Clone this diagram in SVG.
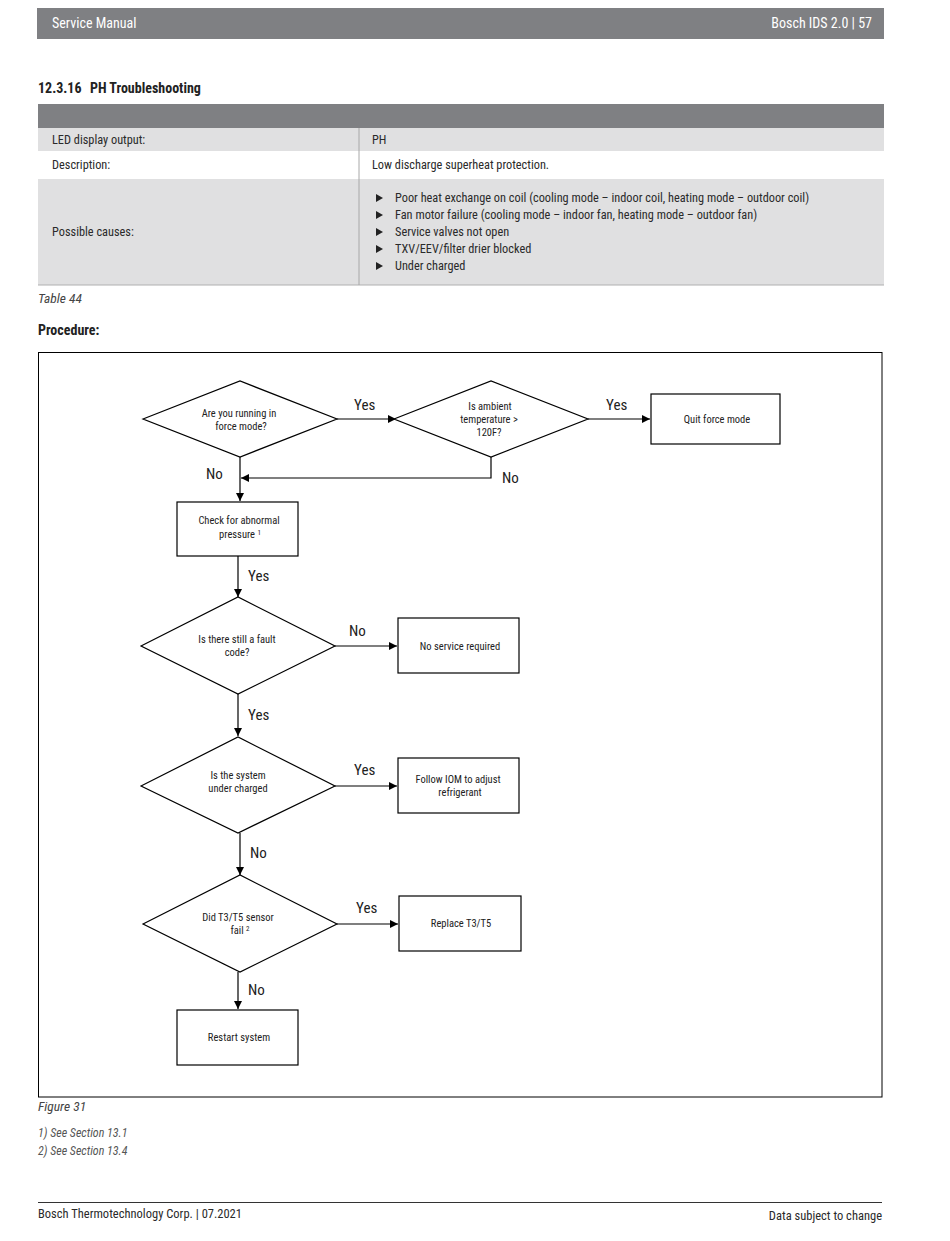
<svg xmlns="http://www.w3.org/2000/svg" width="950" height="1241" viewBox="0 0 950 1241">
<defs>
<marker id="arr" viewBox="0 0 10 10" refX="10" refY="5" markerWidth="8" markerHeight="8" markerUnits="userSpaceOnUse" orient="auto"><path d="M0,0 L10,5 L0,10 z" fill="#000"/></marker>
<style>
text{font-family:"Liberation Sans Narrow","Roboto Condensed","Liberation Sans",sans-serif;fill:#222}
.hdr{fill:#fff;font-size:14px}
.h2{font-size:14px;font-weight:bold}
.tb{font-size:12.3px;fill:#2a2a2a}
.ft{font-size:12.5px;fill:#2a2a2a}
.it{font-size:13.5px;font-style:italic;fill:#444}
.fn{font-size:12px;font-style:italic;fill:#555}
.nd{font-size:10.5px;text-anchor:middle}
.lb{font-size:15px}
.shape{fill:#fff;stroke:#000;stroke-width:1.2}
.con{stroke:#000;stroke-width:1.2;fill:none;marker-end:url(#arr)}
</style>
</defs>
<rect width="950" height="1241" fill="#fff"/>
<!-- header -->
<rect x="37" y="8" width="847" height="31" fill="#7f8083"/>
<text class="hdr" x="52" y="28">Service Manual</text>
<text class="hdr" x="872" y="28" text-anchor="end">Bosch IDS 2.0 | 57</text>
<text class="h2" x="38" y="93">12.3.16</text>
<text class="h2" x="90" y="93">PH Troubleshooting</text>
<!-- table -->
<rect x="38" y="104" width="846" height="24" fill="#7f8083"/>
<rect x="38" y="128" width="846" height="23" fill="#e0e0e1"/>
<rect x="38" y="179" width="846" height="106" fill="#e0e0e1"/>
<line x1="38" y1="285" x2="884" y2="285" stroke="#b0b0b0" stroke-width="1"/>
<line x1="359" y1="128" x2="359" y2="285" stroke="#a8a8a8" stroke-width="1"/>
<text class="tb" x="52" y="144">LED display output:</text>
<text class="tb" x="372" y="144">PH</text>
<text class="tb" x="52" y="169">Description:</text>
<text class="tb" x="372" y="169">Low discharge superheat protection.</text>
<text class="tb" x="52" y="236">Possible causes:</text>
<g fill="#222">
<path d="M376,194 L383,198 L376,202 z"/>
<path d="M376,211 L383,215 L376,219 z"/>
<path d="M376,228 L383,232 L376,236 z"/>
<path d="M376,245 L383,249 L376,253 z"/>
<path d="M376,262 L383,266 L376,270 z"/>
</g>
<text class="tb" x="395" y="202">Poor heat exchange on coil (cooling mode – indoor coil, heating mode – outdoor coil)</text>
<text class="tb" x="395" y="219">Fan motor failure (cooling mode – indoor fan, heating mode – outdoor fan)</text>
<text class="tb" x="395" y="236">Service valves not open</text>
<text class="tb" x="395" y="253">TXV/EEV/filter drier blocked</text>
<text class="tb" x="395" y="270">Under charged</text>
<text class="it" x="38" y="303">Table 44</text>
<text class="h2" x="38" y="335">Procedure:</text>
<!-- figure frame -->
<rect x="38.5" y="352.5" width="843.5" height="744.5" fill="none" stroke="#000" stroke-width="1"/>
<!-- connectors -->
<g id="connectors">
<line class="con" x1="337" y1="419" x2="396" y2="419"/>
<line class="con" x1="588" y1="419" x2="650" y2="419"/>
<line class="con" x1="240" y1="457" x2="240" y2="501"/>
<polyline class="con" points="491,457 491,478 241,478"/>
<line class="con" x1="238" y1="556" x2="238" y2="597"/>
<line class="con" x1="335" y1="646" x2="397" y2="646"/>
<line class="con" x1="238" y1="694" x2="238" y2="736"/>
<line class="con" x1="335" y1="786" x2="397" y2="786"/>
<line class="con" x1="240" y1="833" x2="240" y2="875"/>
<line class="con" x1="337" y1="924" x2="398" y2="924"/>
<line class="con" x1="238" y1="972" x2="238" y2="1009"/>
<text class="lb" x="354" y="410">Yes</text>
<text class="lb" x="606" y="410">Yes</text>
<text class="lb" x="206" y="479">No</text>
<text class="lb" x="502" y="483">No</text>
<text class="lb" x="248" y="581">Yes</text>
<text class="lb" x="349" y="636">No</text>
<text class="lb" x="248" y="720">Yes</text>
<text class="lb" x="354" y="775">Yes</text>
<text class="lb" x="250" y="858">No</text>
<text class="lb" x="356" y="913">Yes</text>
<text class="lb" x="248" y="995">No</text>
</g>
<!-- nodes -->
<g id="d1"><polygon class="shape" points="143,419 240,381 337,419 240,457"/><text class="nd" x="239" y="417">Are you running in</text><text class="nd" x="241" y="430">force mode?</text></g>
<g id="d2"><polygon class="shape" points="394,419 491,381 588,419 491,457"/><text class="nd" x="490" y="410">Is ambient</text><text class="nd" x="489" y="423">temperature &gt;</text><text class="nd" x="489" y="436">120F?</text></g>
<g id="b1"><rect class="shape" x="651" y="394" width="129" height="50"/><text class="nd" x="717" y="423">Quit force mode</text></g>
<g id="b2"><rect class="shape" x="177" y="502" width="121" height="54"/><text class="nd" x="239" y="524">Check for abnormal</text><text class="nd" x="240" y="538">pressure <tspan font-size="7" dy="-3">1</tspan></text></g>
<g id="d3"><polygon class="shape" points="141,646 238,597 335,646 238,694"/><text class="nd" x="237" y="643">Is there still a fault</text><text class="nd" x="237" y="656">code?</text></g>
<g id="b3"><rect class="shape" x="398" y="618" width="121" height="55"/><text class="nd" x="460" y="650">No service required</text></g>
<g id="d4"><polygon class="shape" points="141,786 238,737 335,786 238,833"/><text class="nd" x="238" y="779">Is the system</text><text class="nd" x="238" y="792">under charged</text></g>
<g id="b4"><rect class="shape" x="398" y="758" width="121" height="55"/><text class="nd" x="458" y="783">Follow IOM to adjust</text><text class="nd" x="460" y="796">refrigerant</text></g>
<g id="d5"><polygon class="shape" points="143,924 240,875 337,924 240,972"/><text class="nd" x="238" y="921">Did T3/T5 sensor</text><text class="nd" x="240" y="934">fail <tspan font-size="7" dy="-3">2</tspan></text></g>
<g id="b5"><rect class="shape" x="399" y="896" width="122" height="55"/><text class="nd" x="461" y="927">Replace T3/T5</text></g>
<g id="b6"><rect class="shape" x="177" y="1010" width="121" height="55"/><text class="nd" x="239" y="1041">Restart system</text></g>
<!-- captions -->
<text class="it" x="38" y="1111">Figure 31</text>
<text class="fn" x="38" y="1137">1) See Section 13.1</text>
<text class="fn" x="38" y="1155">2) See Section 13.4</text>
<line x1="38" y1="1202.5" x2="882" y2="1202.5" stroke="#333" stroke-width="1"/>
<text class="ft" x="38" y="1218">Bosch Thermotechnology Corp. | 07.2021</text>
<text class="ft" x="882" y="1220" text-anchor="end">Data subject to change</text>
</svg>
